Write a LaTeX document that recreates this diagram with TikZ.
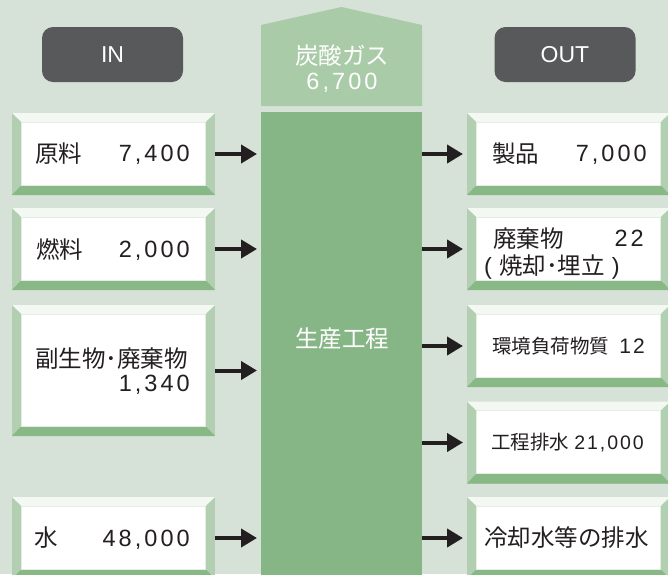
\documentclass[tikz,border=0pt]{standalone}
\usepackage{fontspec}
\setmainfont{Liberation Sans}
\newfontfamily\jp{Noto Sans CJK JP}
\newfontfamily\numf[LetterSpace=13]{Liberation Sans}
\newfontfamily\numfs[LetterSpace=10]{Liberation Sans}
\usetikzlibrary{arrows.meta,calc}

\definecolor{bg}{HTML}{D6E2D8}
\definecolor{colmain}{HTML}{87B686}
\definecolor{coltop}{HTML}{A9CBA7}
\definecolor{bevside}{HTML}{B3CFB1}
\definecolor{bevbot}{HTML}{88B886}
\definecolor{bevtop}{HTML}{F4F8F3}
\definecolor{bevline}{HTML}{E4ECE3}
\definecolor{hdr}{HTML}{58595B}
\definecolor{ink}{HTML}{231F20}

\tikzset{
 box/.style={minimum width=203pt, inner sep=0pt, outer sep=0pt},
 hdrbox/.style={fill=hdr, rounded corners=11pt, minimum width=141pt, minimum height=55pt, text=white, font=\fontsize{23}{26}\selectfont, inner sep=0pt},
 lbl/.style={text=ink, inner sep=0pt, font=\jp\fontsize{23.5}{27}\selectfont},
 lbls/.style={text=ink, inner sep=0pt, font=\jp\fontsize{19.5}{23}\selectfont},
 num/.style={text=ink, inner sep=0pt, font=\numf\fontsize{23.5}{27}\selectfont},
 nums/.style={text=ink, inner sep=0pt, font=\numfs\fontsize{19.5}{23}\selectfont},
 wlbl/.style={text=white, inner sep=0pt, font=\jp\fontsize{23.5}{27}\selectfont},
 wnum/.style={text=white, inner sep=0pt, font=\numf\fontsize{23.5}{27}\selectfont},
 arr/.style={draw=ink, line width=4pt, -{Triangle[length=16pt,width=18pt]}, shorten >=4pt},
}

\newcommand\mybevel[1]{%
 \fill[bevside] (#1.north west) rectangle (#1.south east);
 \fill[bevtop] (#1.north west) -- (#1.north east) -- ($(#1.north east)+(-9.5,9)$) -- ($(#1.north west)+(9.5,9)$) -- cycle;
 \fill[bevbot] (#1.south west) -- (#1.south east) -- ($(#1.south east)+(-9.5,-10)$) -- ($(#1.south west)+(9.5,-10)$) -- cycle;
 \filldraw[fill=white, draw=bevline, line width=0.7pt] ($(#1.north west)+(9.5,9)$) rectangle ($(#1.south east)+(-9.5,-10)$);
}

\begin{document}
\begin{tikzpicture}[x=1pt,y=-1pt]
\useasboundingbox (0,0) rectangle (668,574);
\fill[bg] (0,0) rectangle (668,574);
\clip (0,0) rectangle (668,574);

% headers
\node[hdrbox] (inhdr) at (112.5,54.5) {IN};
\node[hdrbox] (outhdr) at (565,54.5) {OUT};

% central column
\fill[coltop] (261,106) -- (261,25) -- (341.5,7) -- (422,25) -- (422,106) -- cycle;
\node[fill=colmain, minimum width=161pt, minimum height=470pt, inner sep=0pt, outer sep=0pt, anchor=north] (col) at (341.5,112) {};
\node[wlbl, anchor=base] (gas) at (342,64) {炭酸ガス};
\node[wnum, anchor=base] (gasv) at (342,89.5) {6,700};
\node[wlbl, anchor=base] (proc) at (342,347) {生産工程};

% boxes
\node[box, minimum height=82pt] (L1) at (113.5,154) {};
\node[box, minimum height=82pt] (L2) at (113.5,249) {};
\node[box, minimum height=131pt] (L3) at (113.5,370.5) {};
\node[box, minimum height=82pt] (L4) at (113.5,538) {};
\node[box, minimum height=82pt] (R1) at (568.5,154) {};
\node[box, minimum height=82pt] (R2) at (568.5,249) {};
\node[box, minimum height=82pt] (R3) at (568.5,346) {};
\node[box, minimum height=82pt] (R4) at (568.5,442.5) {};
\node[box, minimum height=82pt] (R5) at (568.5,538) {};
\mybevel{L1}\mybevel{L2}\mybevel{L3}\mybevel{L4}
\mybevel{R1}\mybevel{R2}\mybevel{R3}\mybevel{R4}\mybevel{R5}

% left texts
\node[lbl, anchor=base west] (t1) at (35,162) {原料};
\node[num, anchor=base east] (n1) at (190,161.5) {7,400};
\node[lbl, anchor=base west] (t2) at (36,258) {燃料};
\node[num, anchor=base east] (n2) at (190,257.5) {2,000};
\node[lbl, anchor=base west] (t3) at (35,367) {副生物･廃棄物};
\node[num, anchor=base east] (n3) at (190,391.5) {1,340};
\node[lbl, anchor=base west] (t4) at (34,546.5) {水};
\node[num, anchor=base east] (n4) at (190,546) {48,000};

% right texts
\node[lbl, anchor=base west] (r1) at (492,162) {製品};
\node[num, anchor=base east] (rn1) at (647,161.5) {7,000};
\node[lbl, anchor=base west] (r2) at (493,247) {廃棄物};
\node[num, anchor=base east] (rn2) at (644,246.5) {22};
\node[lbl, anchor=base west] (r2b) at (484,274) {{\rmfamily(}\hspace{7pt}焼却･埋立\hspace{7pt}{\rmfamily)}};
\node[lbls, anchor=base west] (r3) at (492,353.5) {環境負荷物質};
\node[nums, anchor=base east, font=\numfs\fontsize{21}{25}\selectfont] (rn3) at (645,353) {12};
\node[lbls, anchor=base west] (r4) at (491,449.5) {工程排水};
\node[nums, anchor=base east] (rn4) at (644,449) {21,000};
\node[lbl, anchor=base west] (r5) at (484,546) {冷却水等の排水};

% arrows
\draw[arr] (L1.east) -- (L1.east -| col.west);
\draw[arr] (L2.east) -- (L2.east -| col.west);
\draw[arr] (L3.east) -- (L3.east -| col.west);
\draw[arr] (L4.east) -- (L4.east -| col.west);
\draw[arr] (col.east |- R1.west) -- (R1.west);
\draw[arr] (col.east |- R2.west) -- (R2.west);
\draw[arr] (col.east |- R3.west) -- (R3.west);
\draw[arr] (col.east |- R4.west) -- (R4.west);
\draw[arr] (col.east |- R5.west) -- (R5.west);
\end{tikzpicture}
\end{document}
